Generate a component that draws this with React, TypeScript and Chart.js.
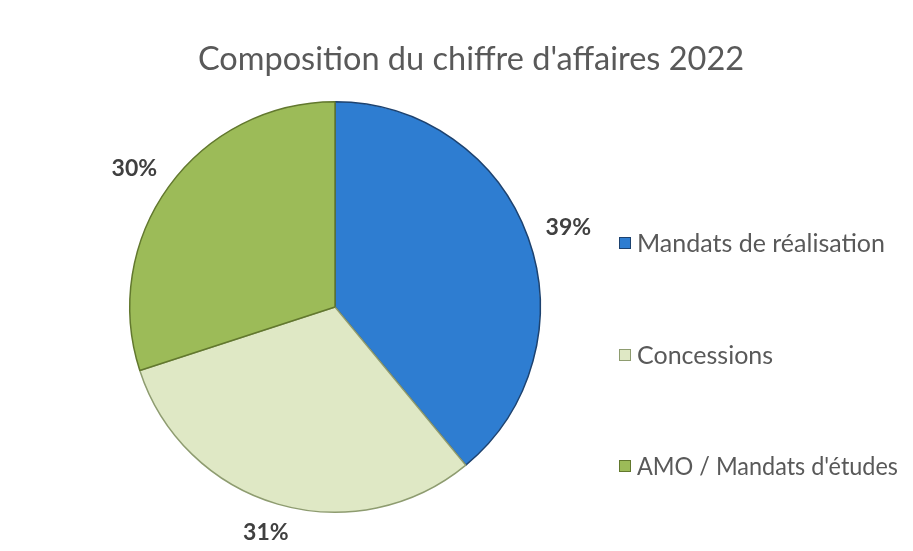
import React, { useEffect, useRef } from "react";
import { Chart, registerables } from "chart.js";

Chart.register(...registerables);

const title = "Composition du chiffre d'affaires 2022";
const categories = ["Mandats de réalisation", "Concessions", "AMO / Mandats d'études"];
const values = [39, 31, 30];
const colors = ["#2e7dd1", "#dfe8c5", "#9cbb58"];
const borderColors = ["#1d426f", "#8e9c70", "#62782e"];

const FONT = "Lato, 'Open Sans', 'DejaVu Sans', sans-serif";

const overlayPlugin = {
  id: "overlay",
  afterDraw(chart: any) {
    const ctx = chart.ctx as CanvasRenderingContext2D;
    ctx.save();
    // title
    ctx.fillStyle = "#595959";
    ctx.font = `32.5px ${FONT}`;
    ctx.textAlign = "center";
    ctx.textBaseline = "middle";
    ctx.fillText(title, 471, 60);

    // data labels
    const meta = chart.getDatasetMeta(0);
    const total = values.reduce((a, b) => a + b, 0);
    ctx.font = `bold 23px ${FONT}`;
    ctx.fillStyle = "#404040";
    meta.data.forEach((arc: any, i: number) => {
      const { x, y, startAngle, endAngle, outerRadius } = arc.getProps(
        ["x", "y", "startAngle", "endAngle", "outerRadius"],
        true
      );
      const mid = (startAngle + endAngle) / 2;
      const dx = Math.cos(mid);
      const dy = Math.sin(mid);
      const txt = Math.round((values[i] / total) * 100) + "%";
      const w = ctx.measureText(txt).width;
      const h = 20;
      const r = outerRadius + 20;
      const cx = x + dx * r + (dx * w) / 2;
      const cy = y + dy * r + (dy * h) / 2;
      ctx.fillText(txt, cx, cy);
    });

    // legend
    const lx = 619;
    const ys = [243, 355, 466];
    ctx.font = `25px ${FONT}`;
    ctx.textAlign = "left";
    categories.forEach((c, i) => {
      const y = ys[i];
      ctx.fillStyle = colors[i];
      ctx.fillRect(lx, y - 6, 12, 12);
      ctx.strokeStyle = borderColors[i];
      ctx.lineWidth = 1;
      ctx.strokeRect(lx + 0.5, y - 5.5, 11, 11);
      ctx.fillStyle = "#595959";
      ctx.fillText(c, lx + 18, y + 1, 261);
    });
    ctx.restore();
  },
};

export default function App() {
  const ref = useRef<HTMLCanvasElement>(null);
  useEffect(() => {
    if (!ref.current) return;
    const chart = new Chart(ref.current, {
      type: "pie",
      data: {
        labels: categories,
        datasets: [
          {
            data: values,
            backgroundColor: colors,
            borderColor: borderColors,
            borderWidth: 1.5,
          },
        ],
      },
      options: {
        responsive: false,
        animation: false,
        layout: { padding: { left: 129, right: 372, top: 101, bottom: 38 } },
        plugins: {
          legend: { display: false },
          title: { display: false },
          tooltip: { enabled: false },
        },
      },
      plugins: [overlayPlugin],
    });
    return () => chart.destroy();
  }, []);
  return (
    <div style={{ position: "absolute", left: 0, top: 0, width: 913, height: 551, background: "#ffffff" }}>
      <canvas ref={ref} width={913} height={551} />
    </div>
  );
}
